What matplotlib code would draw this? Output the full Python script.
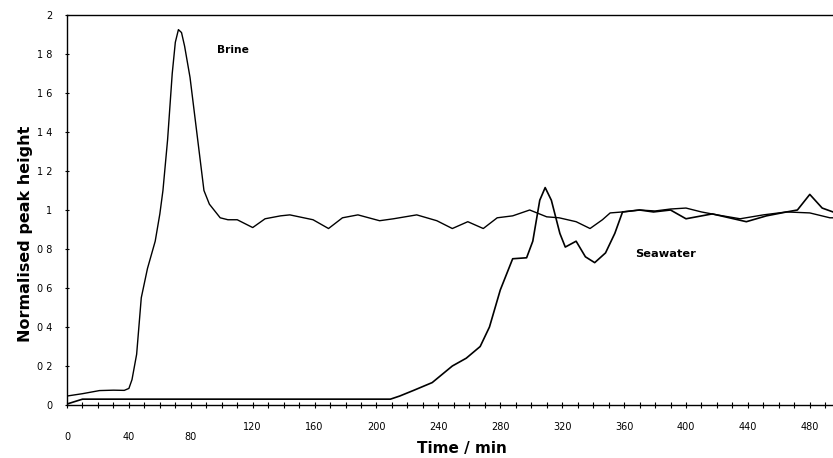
import matplotlib
matplotlib.use("Agg")
import matplotlib.pyplot as plt
from matplotlib.ticker import MultipleLocator, FixedLocator

brine_t = [0, 10, 21, 30, 37, 40, 42, 45, 48, 52, 57, 60, 62, 65, 68, 70, 72, 74, 76, 79.5, 84,
           88.5, 92, 99, 104, 110, 120, 128, 138, 144, 159, 169, 178, 188, 202, 211, 226,
           239, 249, 259, 269, 278, 288, 299, 310, 318, 329, 338, 346, 351, 359, 370, 380,
           390, 400, 410, 420, 435, 450, 465, 480, 493, 495]
brine_v = [0.046, 0.058, 0.074, 0.076, 0.075, 0.085, 0.13, 0.26, 0.55, 0.70, 0.84, 0.98, 1.10,
           1.36, 1.70, 1.86, 1.925, 1.91, 1.84, 1.68, 1.39, 1.10, 1.03, 0.96, 0.95, 0.95,
           0.91, 0.955, 0.97, 0.975, 0.95, 0.905, 0.96, 0.975, 0.945, 0.955, 0.975, 0.945,
           0.905, 0.94, 0.905, 0.96, 0.97, 1.0, 0.965, 0.96, 0.94, 0.905, 0.95, 0.985, 0.99,
           1.0, 0.995, 1.005, 1.01, 0.99, 0.975, 0.955, 0.975, 0.99, 0.985, 0.96, 0.96]

sea_t = [0, 10, 50, 100, 150, 209, 215, 224, 236, 249, 258, 267, 273, 280, 288, 297, 301,
         305.5, 309, 313, 318.5, 322, 329, 335, 341, 348, 354, 359, 370, 379, 390, 400,
         417, 439, 452, 465, 472, 480, 488, 495]
sea_v = [0.005, 0.03, 0.03, 0.03, 0.03, 0.03, 0.046, 0.075, 0.115, 0.20, 0.24, 0.30, 0.40,
         0.59, 0.75, 0.755, 0.84, 1.05, 1.115, 1.05, 0.88, 0.81, 0.84, 0.76, 0.73, 0.78,
         0.88, 0.99, 1.0, 0.99, 1.0, 0.955, 0.98, 0.94, 0.97, 0.99, 1.0, 1.08, 1.01, 0.99]

x_ticks = [0, 40, 80, 120, 160, 200, 240, 280, 320, 360, 400, 440, 480]
y_ticks = [0, 0.2, 0.4, 0.6, 0.8, 1.0, 1.2, 1.4, 1.6, 1.8, 2.0]
y_labels = ["0", "0 2", "0 4", "0 6", "0 8", "1", "1 2", "1 4", "1 6", "1 8", "2"]

fig = plt.figure(figsize=(8.33, 4.58), dpi=100)
ax = fig.add_axes([67/833, 1-405/458, 1-67/833, 390/458])

ax.plot(brine_t, brine_v, color="black", lw=1.0)
ax.plot(sea_t, sea_v, color="black", lw=1.2)

ax.set_xlim(0, 495)
ax.set_ylim(0, 2)
ax.spines["right"].set_visible(False)
for s in ["left", "top", "bottom"]:
    ax.spines[s].set_linewidth(1.0)

ax.xaxis.set_major_locator(FixedLocator(x_ticks))
ax.xaxis.set_minor_locator(MultipleLocator(10))
ax.set_xticklabels([str(v) for v in x_ticks], fontsize=7, family=["Liberation Sans Narrow", "DejaVu Sans"])
ax.tick_params(axis="x", which="both", direction="inout", length=4, width=0.8, pad=10.5)
for i, tk in enumerate(ax.xaxis.get_major_ticks()):
    if i < 3:
        tk.set_pad(17.5)

ax.set_yticks(y_ticks)
ax.set_yticklabels(y_labels, fontsize=7, family=["Liberation Sans Narrow", "DejaVu Sans"])
ax.tick_params(axis="y", direction="inout", length=3, width=0.8, pad=9)

ax.set_xlabel("Time / min", fontsize=11, fontweight="bold")
ax.xaxis.set_label_coords((462-67)/766, -(441-405)/390)
ax.set_ylabel("Normalised peak height", fontsize=11.5, fontweight="bold")
ax.yaxis.set_label_coords(-(67-33)/766, (405-234)/390)

ax.text(97, 1.82, "Brine", fontsize=7.7, fontweight="bold", ha="left", va="center")
ax.text(367, 0.775, "Seawater", fontsize=8.2, fontweight="bold", ha="left", va="center")

fig.savefig("out.png", dpi=100)
